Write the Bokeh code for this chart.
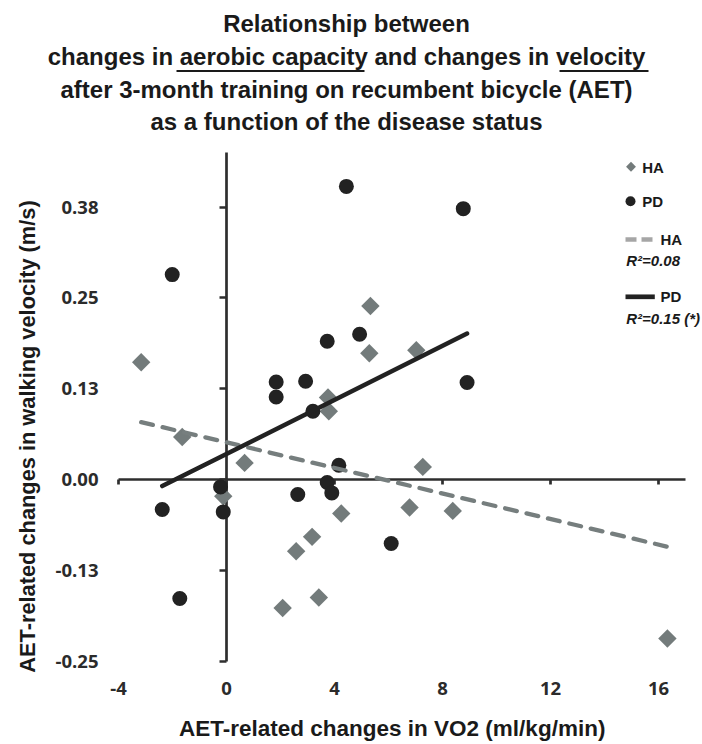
import numpy as np
from bokeh.plotting import figure
from bokeh.models import Range1d, LinearAxis, FixedTicker, Label, Arrow
from bokeh.embed import file_html
from bokeh.resources import INLINE

# ---- data: AET-related changes (VO2 in ml/kg/min, velocity in m/s) ----
ha_vo2 = [-3.16, -1.64, 0.67, -0.12, 2.58, 3.17, 2.08, 3.42, 4.25, 6.78,
          8.38, 7.27, 16.33, 5.33, 5.29, 7.03, 3.76, 3.79]
ha_vel = [0.1615, 0.0588, 0.0231, -0.0227, -0.0983, -0.0786, -0.1764, -0.1619,
          -0.0465, -0.0382, -0.0429, 0.0176, -0.2183, 0.2389, 0.1739, 0.1780,
          0.1130, 0.0942]

pd_vo2 = [-2.01, -2.38, -1.73, -0.22, -0.12, 2.64, 3.73, 3.90, 4.16, 6.10,
          4.44, 8.77, 4.93, 3.73, 1.84, 1.84, 2.93, 3.20, 8.91]
pd_vel = [0.2821, -0.0410, -0.1633, -0.0099, -0.0443, -0.0203, -0.0038, -0.0181,
          0.0199, -0.0877, 0.4034, 0.3728, 0.2000, 0.1904, 0.1344, 0.1138,
          0.1354, 0.0942, 0.1336]

# linear trend lines (slope, intercept) and their R² labels
ha_fit = (-0.00879, 0.0514)
pd_fit = (0.01857, 0.0355)
ha_r2_label = "R\u00b2=0.08"
pd_r2_label = "R\u00b2=0.15 (*)"

x_ticks = [-4, 0, 4, 8, 12, 16]
x_tick_labels = ["-4", "0", "4", "8", "12", "16"]
y_ticks = [-0.25, -0.125, 0.0, 0.125, 0.25, 0.375]
y_tick_labels = ["-0.25", "-0.13", "0.00", "0.13", "0.25", "0.38"]

title_lines = [
    "Relationship between",
    "changes in aerobic capacity and changes in velocity",
    "after 3-month training on recumbent bicycle (AET)",
    "as a function of the disease status",
]
x_title = "AET-related changes in VO2 (ml/kg/min)"
y_title = "AET-related changes in walking  velocity (m/s)"

# ---- styling ----
HA_COLOR = "#737b7b"
HA_LINE = "#767e7e"
HA_KEY_LINE = "#a6a6a6"
PD_COLOR = "#222222"
AXIS_COLOR = "#2e2e2e"
TEXT = "#1a1a1a"
SANS = "Liberation Sans"
TICK_FONT = "Open Sans"

W, H = 702, 744
# plot area on the canvas (pixels) and the value span it shows
FL, FT, FR, FB = 118, 152, 685, 661
X0, X1 = -4, 17
Y0, Y1 = -0.25, 0.45
PX_X = (FR - FL) / (X1 - X0)
PX_Y = (FB - FT) / (Y1 - Y0)

# the frame fills the whole canvas; ranges keep the plot area at FL..FR, FT..FB
p = figure(width=W, height=H,
           x_range=Range1d(X0 - FL / PX_X, X1 + (W - FR) / PX_X),
           y_range=Range1d(Y0 - (H - FB) / PX_Y, Y1 + FT / PX_Y),
           output_backend="svg", toolbar_location=None,
           x_axis_location=None, y_axis_location=None,
           min_border=0, outline_line_color=None,
           background_fill_color="white", border_fill_color="white")
p.xgrid.visible = False
p.ygrid.visible = False


def label_axis(loc, ticks, labels, standoff):
    return LinearAxis(fixed_location=loc, ticker=FixedTicker(ticks=ticks),
                      major_label_overrides=dict(zip(ticks, labels)),
                      axis_line_color=None, major_tick_line_color=None,
                      minor_tick_line_color=None, major_tick_in=0, major_tick_out=0,
                      major_label_standoff=standoff,
                      major_label_text_font=TICK_FONT,
                      major_label_text_font_style="bold",
                      major_label_text_font_size="18.5px",
                      major_label_text_color="#2b2b2b")


def line_axis(ticks, bounds, tick_out):
    return LinearAxis(fixed_location=0, ticker=FixedTicker(ticks=ticks),
                      bounds=bounds, major_label_text_color=None,
                      axis_line_color=AXIS_COLOR, axis_line_width=2.7,
                      major_tick_line_color=AXIS_COLOR, major_tick_line_width=2.7,
                      major_tick_in=0, major_tick_out=tick_out,
                      minor_tick_line_color=None, level="underlay")


# tick labels along the bottom and left edges of the plot area
p.add_layout(label_axis(Y0, x_ticks, x_tick_labels, 20), "below")
p.add_layout(label_axis(X0, y_ticks, y_tick_labels, 20), "left")
# axis lines crossing at the origin
p.add_layout(line_axis(x_ticks, (X0, X1), 5), "below")
p.add_layout(line_axis(y_ticks, (Y0, Y1), 7), "left")

# scatter points
p.scatter(ha_vo2, ha_vel, marker="square", angle=np.pi / 4, size=13,
          fill_color=HA_COLOR, line_color=None)
p.scatter(pd_vo2, pd_vel, marker="circle", size=15,
          fill_color=PD_COLOR, line_color=None)

# trend lines over each group's VO2 span
ha_x = np.array([min(ha_vo2), max(ha_vo2)])
pd_x = np.array([min(pd_vo2), max(pd_vo2)])
p.line(ha_x, ha_fit[0] * ha_x + ha_fit[1], line_color=HA_LINE, line_width=4.3,
       line_dash="12 10", line_cap="round")
p.line(pd_x, pd_fit[0] * pd_x + pd_fit[1], line_color=PD_COLOR, line_width=4.5,
       line_cap="round")


# ---- legend (positions in canvas pixels) ----
def cx(px):
    return X0 + (px - FL) / PX_X


def cy(py):
    return Y0 + (FB - py) / PX_Y


p.scatter([cx(630.5)], [cy(166.3)], marker="square", angle=np.pi / 4, size=7,
          fill_color=HA_COLOR, line_color=None)
p.scatter([cx(630)], [cy(200.7)], marker="circle", size=10,
          fill_color=PD_COLOR, line_color=None)
p.line([cx(625), cx(652)], [cy(239), cy(239)], line_color=HA_KEY_LINE,
       line_width=4.3, line_dash="11 5")
p.line([cx(625), cx(654.3)], [cy(296.3), cy(296.3)], line_color=PD_COLOR,
       line_width=4.7)


def label(text, px, py, size, style="bold", align="left", angle=0.0, color=TEXT):
    """Text centred vertically on canvas row py."""
    p.add_layout(Label(x=px, y=H - py, x_units="screen", y_units="screen",
                       text=text, text_font=SANS, text_font_size=f"{size}px",
                       text_font_style=style, text_align=align,
                       text_baseline="middle", angle=angle, text_color=color))


label("HA", 641.7, 166.7, 15)
label("PD", 641.7, 200.7, 15)
label("HA", 660, 239, 15)
label(ha_r2_label, 625.7, 260, 15, style="bold italic")
label("PD", 660, 296.3, 15)
label(pd_r2_label, 625.7, 318, 15, style="bold italic")

# ---- title ----
for line, mid in zip(title_lines, [23.3, 56, 88.5, 121]):
    label(line, 346, mid, 24, align="center")


def underline(px0, px1, py):
    p.add_layout(Arrow(x_start=px0, x_end=px1, y_start=H - py, y_end=H - py,
                       start_units="screen", end_units="screen",
                       start=None, end=None, line_color=TEXT, line_width=2))


underline(176, 364, 70.5)
underline(559, 648, 70.5)

# ---- axis titles ----
label(x_title, 391.7, 727.7, 22.5, align="center")
label(y_title, 27, 433, 21.8, align="center", angle=np.pi / 2)

open("out.html", "w").write(file_html(p, INLINE))
